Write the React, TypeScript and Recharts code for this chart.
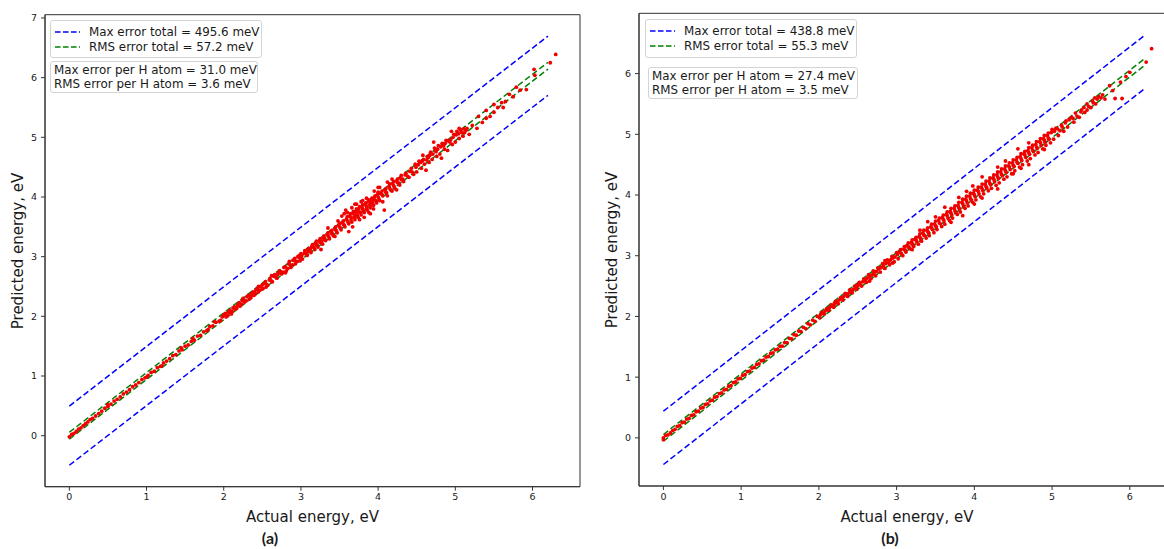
import React from 'react';
import { ScatterChart, Scatter, XAxis, YAxis, ReferenceLine, ReferenceArea, Legend } from 'recharts';

const xTicks = [0, 1, 2, 3, 4, 5, 6];
const yTicksA = [0, 1, 2, 3, 4, 5, 6, 7];
const yTicksB = [0, 1, 2, 3, 4, 5, 6];
const xDomainA: [number, number] = [-0.315, 6.615];
const yDomainA: [number, number] = [-0.855, 7.055];
const xDomainB: [number, number] = [-0.314, 6.594];
const yDomainB: [number, number] = [-0.793, 6.993];
const lineSpan = [0, 6.2];
const maxErrA = 0.4956;
const rmsErrA = 0.0572;
const maxErrB = 0.4388;
const rmsErrB = 0.0553;
const legendA = ['Max error total = 495.6 meV', 'RMS error total = 57.2 meV'];
const statsA = ['Max error per H atom = 31.0 meV', 'RMS error per H atom = 3.6 meV'];
const legendB = ['Max error total = 438.8 meV', 'RMS error total = 55.3 meV'];
const statsB = ['Max error per H atom = 27.4 meV', 'RMS error per H atom = 3.5 meV'];
const xLabel = 'Actual energy, eV';
const yLabel = 'Predicted energy, eV';
const panelTags = ['(a)', '(b)'];

// [actual, predicted] in eV
const pointsA: [number, number][] = [
  [0.0, -0.02], [0.03, 0.02], [0.06, 0.04], [0.09, 0.07], [0.12, 0.11], [0.15, 0.13], [0.18, 0.17], [0.21, 0.2],
  [0.24, 0.23], [0.27, 0.27], [0.3, 0.29], [0.34, 0.33], [0.38, 0.37], [0.42, 0.41], [0.46, 0.46], [0.5, 0.49],
  [0.54, 0.53], [0.58, 0.58], [0.62, 0.61], [0.66, 0.65], [0.7, 0.7], [0.74, 0.73], [0.78, 0.77], [0.82, 0.82],
  [0.86, 0.85], [0.9, 0.89], [0.94, 0.94], [0.98, 0.97], [1.02, 1.01], [1.06, 1.06], [1.1, 1.08], [1.14, 1.14],
  [1.18, 1.16], [1.22, 1.22], [1.26, 1.25], [1.3, 1.29], [1.34, 1.34], [1.38, 1.36], [1.42, 1.42], [1.46, 1.44],
  [1.5, 1.5], [1.54, 1.52], [1.58, 1.58], [1.62, 1.6], [1.66, 1.67], [1.7, 1.68], [1.74, 1.74], [1.78, 1.76],
  [1.82, 1.83], [1.86, 1.84], [1.9, 1.9], [1.94, 1.92], [1.98, 1.99], [1.2, 1.17], [1.45, 1.47], [1.6, 1.63],
  [1.8, 1.78], [1.88, 1.91], [1.96, 1.93], [0.5, 0.52], [1.0, 0.98],
  [2.0, 2.02], [2.03, 1.99], [2.06, 2.07], [2.09, 2.06], [2.12, 2.14], [2.15, 2.12], [2.18, 2.19], [2.21, 2.17],
  [2.24, 2.26], [2.27, 2.24], [2.3, 2.33], [2.33, 2.29], [2.36, 2.38], [2.39, 2.35], [2.42, 2.45], [2.45, 2.41],
  [2.48, 2.5], [2.51, 2.47], [2.54, 2.58], [2.57, 2.52], [2.6, 2.63], [2.63, 2.58], [2.66, 2.7], [2.69, 2.64],
  [2.72, 2.76], [2.75, 2.71], [2.78, 2.82], [2.81, 2.76], [2.84, 2.88], [2.87, 2.82], [2.9, 2.94], [2.93, 2.88],
  [2.96, 3.0], [2.99, 2.93], [2.1, 2.04], [2.25, 2.3], [2.4, 2.41], [2.55, 2.49], [2.62, 2.68], [2.7, 2.7],
  [2.8, 2.73], [2.85, 2.92], [2.92, 2.97], [2.98, 2.98], [2.45, 2.5], [2.35, 2.31], [2.5, 2.53],
  [3.0, 3.05], [3.02, 2.96], [3.05, 3.1], [3.08, 3.02], [3.1, 3.14], [3.13, 3.07], [3.15, 3.2], [3.18, 3.12],
  [3.2, 3.26], [3.22, 3.16], [3.25, 3.3], [3.28, 3.21], [3.3, 3.35], [3.32, 3.27], [3.35, 3.4], [3.37, 3.3],
  [3.4, 3.44], [3.42, 3.35], [3.45, 3.5], [3.47, 3.4], [3.5, 3.56], [3.52, 3.45], [3.55, 3.6], [3.57, 3.5],
  [3.6, 3.67], [3.62, 3.55], [3.64, 3.72], [3.66, 3.58], [3.68, 3.76], [3.7, 3.62], [3.72, 3.8], [3.74, 3.66],
  [3.76, 3.84], [3.78, 3.7], [3.8, 3.87], [3.82, 3.74], [3.84, 3.9], [3.86, 3.78], [3.88, 3.95], [3.9, 3.82],
  [3.92, 3.98], [3.94, 3.86], [3.96, 4.02], [3.98, 3.9], [4.0, 4.08], [4.02, 3.94], [4.05, 4.1], [4.08, 3.78],
  [4.1, 4.14], [4.12, 4.02], [4.15, 4.22], [4.18, 4.1], [4.2, 4.26], [4.22, 4.14], [4.25, 4.3], [4.28, 4.2],
  [4.3, 4.36], [4.33, 4.26], [4.36, 4.4], [4.4, 4.33], [4.43, 4.48], [4.46, 4.38],
  [3.1, 3.09], [3.2, 3.2], [3.3, 3.29], [3.4, 3.39], [3.5, 3.5], [3.6, 3.6], [3.7, 3.7], [3.8, 3.8],
  [3.9, 3.9], [4.0, 4.0], [4.1, 4.08], [4.2, 4.19], [4.3, 4.29], [3.15, 3.16], [3.25, 3.24], [3.35, 3.36],
  [3.45, 3.45], [3.55, 3.54], [3.65, 3.66], [3.75, 3.75], [3.85, 3.85], [3.95, 3.95], [4.05, 4.04], [4.15, 4.15],
  [4.25, 4.24], [3.58, 3.78], [3.7, 3.88], [3.62, 3.42], [3.85, 3.98], [3.9, 3.72], [4.0, 4.16], [3.78, 3.92],
  [3.67, 3.5], [3.53, 3.68], [3.35, 3.48], [3.26, 3.12], [3.95, 4.1], [4.12, 4.25], [3.82, 3.66],
  [4.48, 4.55], [4.5, 4.42], [4.53, 4.6], [4.56, 4.48], [4.58, 4.7], [4.6, 4.55], [4.63, 4.62], [4.66, 4.58],
  [4.68, 4.75], [4.7, 4.63], [4.73, 4.82], [4.76, 4.68], [4.78, 4.86], [4.8, 4.72], [4.83, 4.9], [4.86, 4.8],
  [4.88, 4.95], [4.9, 4.78], [4.93, 4.92], [4.96, 4.88], [4.98, 5.05], [5.0, 4.92], [5.02, 5.1], [5.05, 4.98],
  [5.07, 5.12], [5.1, 5.02], [5.12, 5.08], [5.15, 5.15], [5.18, 5.05], [4.62, 4.45], [4.72, 4.92], [4.82, 4.65],
  [4.95, 5.1], [5.05, 5.15], [4.55, 4.58], [4.65, 4.66], [4.75, 4.76], [4.85, 4.86],
  [5.22, 5.2], [5.28, 5.15], [5.3, 5.35], [5.35, 5.25], [5.4, 5.45], [5.45, 5.35], [5.5, 5.55], [5.55, 5.5],
  [5.6, 5.58], [5.62, 5.5], [5.7, 5.72], [5.75, 5.68], [5.79, 5.84], [5.84, 5.79], [5.92, 5.8], [6.02, 6.14],
  [6.03, 6.04], [6.23, 6.25], [6.3, 6.39], [5.65, 5.6], [5.5, 5.42], [5.4, 5.32],
];

// dense core of panel (a)
const pointsA2: [number, number][] = [
  [2.02, 2.05], [2.05, 2.01], [2.08, 2.1], [2.11, 2.08], [2.14, 2.16], [2.17, 2.14], [2.2, 2.23], [2.23, 2.2],
  [2.26, 2.28], [2.29, 2.26], [2.32, 2.35], [2.35, 2.33], [2.38, 2.41], [2.41, 2.38], [2.44, 2.46], [2.47, 2.44],
  [2.5, 2.46], [2.53, 2.55], [2.56, 2.53], [2.59, 2.61], [2.62, 2.59], [2.65, 2.67], [2.68, 2.65], [2.71, 2.73],
  [2.74, 2.75], [2.77, 2.74], [2.8, 2.83], [2.83, 2.8], [2.86, 2.86], [2.89, 2.86], [2.92, 2.93], [2.95, 2.92],
  [2.98, 3.02], [3.01, 3.01], [3.04, 3.05], [3.07, 3.06], [3.09, 3.11], [3.12, 3.12], [3.14, 3.17], [3.17, 3.16],
  [3.19, 3.22], [3.21, 3.2], [3.24, 3.27], [3.27, 3.25], [3.29, 3.32], [3.31, 3.3], [3.34, 3.37], [3.36, 3.34],
  [3.39, 3.42], [3.41, 3.38], [3.44, 3.47], [3.46, 3.43], [3.49, 3.53], [3.51, 3.48], [3.54, 3.57], [3.56, 3.53],
  [3.59, 3.63], [3.61, 3.58], [3.63, 3.68], [3.65, 3.62], [3.67, 3.72], [3.69, 3.66], [3.71, 3.75], [3.73, 3.7],
  [3.75, 3.8], [3.77, 3.74], [3.79, 3.83], [3.81, 3.77], [3.83, 3.87], [3.85, 3.81], [3.87, 3.92], [3.89, 3.86],
  [3.91, 3.94], [3.93, 3.9], [3.95, 3.99], [3.97, 3.94], [3.99, 4.04], [4.01, 3.97], [4.03, 4.06], [4.06, 4.02],
  [4.09, 4.12], [4.11, 4.07], [4.14, 4.18], [4.16, 4.12], [4.19, 4.22], [4.21, 4.17], [4.24, 4.27], [4.27, 4.23],
  [4.29, 4.32], [4.32, 4.3], [4.35, 4.37], [4.38, 4.35], [4.41, 4.43], [4.44, 4.42], [3.56, 3.72], [3.6, 3.74],
  [3.66, 3.82], [3.72, 3.88], [3.8, 3.94], [3.76, 3.62], [3.88, 3.74], [3.94, 3.8], [4.02, 4.16], [4.06, 3.92],
  [3.48, 3.6], [3.44, 3.34], [4.18, 4.3], [4.24, 4.12], [4.49, 4.5], [4.52, 4.54], [4.57, 4.6], [4.59, 4.63],
  [4.64, 4.68], [4.67, 4.7], [4.71, 4.72], [4.74, 4.78], [4.77, 4.8], [4.81, 4.84], [4.84, 4.86], [4.87, 4.9],
  [4.91, 4.94], [4.94, 4.96], [4.97, 5.0], [5.01, 5.04], [5.04, 5.06], [5.08, 5.08], [5.11, 5.14], [5.14, 5.12],
];

const pointsB: [number, number][] = [
  [0.0, 0.0], [0.0, -0.03], [0.03, 0.04], [0.06, 0.05], [0.09, 0.08], [0.12, 0.12], [0.15, 0.14], [0.18, 0.19],
  [0.21, 0.2], [0.24, 0.25], [0.27, 0.26], [0.3, 0.31], [0.33, 0.32], [0.36, 0.37], [0.39, 0.38], [0.42, 0.43],
  [0.45, 0.44], [0.48, 0.49], [0.51, 0.5], [0.54, 0.55], [0.57, 0.56], [0.6, 0.61], [0.63, 0.62], [0.66, 0.67],
  [0.69, 0.68], [0.72, 0.73], [0.75, 0.74], [0.78, 0.79], [0.81, 0.8], [0.84, 0.85], [0.87, 0.86], [0.9, 0.91],
  [0.93, 0.92], [0.96, 0.97], [0.99, 0.98], [1.02, 1.03], [1.05, 1.04], [1.08, 1.09], [1.11, 1.1], [1.14, 1.15],
  [1.17, 1.16], [1.2, 1.21], [1.23, 1.22], [1.26, 1.27], [1.29, 1.28], [1.32, 1.33], [1.35, 1.34], [1.38, 1.39],
  [1.41, 1.4], [1.44, 1.45], [1.47, 1.46], [1.5, 1.51], [1.53, 1.51], [1.56, 1.57], [1.59, 1.57], [1.62, 1.64],
  [1.65, 1.63], [1.68, 1.7], [1.71, 1.69], [1.74, 1.76], [1.77, 1.75], [1.8, 1.82], [1.83, 1.8], [1.86, 1.88],
  [1.89, 1.86], [1.92, 1.94], [1.95, 1.92], [1.98, 2.0],
  [2.01, 1.98], [2.04, 2.07], [2.07, 2.04], [2.1, 2.13], [2.13, 2.1], [2.16, 2.19], [2.19, 2.15], [2.22, 2.25],
  [2.25, 2.21], [2.28, 2.31], [2.31, 2.27], [2.34, 2.38], [2.37, 2.33], [2.4, 2.44], [2.43, 2.39], [2.46, 2.5],
  [2.49, 2.45], [2.52, 2.56], [2.55, 2.5], [2.58, 2.62], [2.61, 2.56], [2.64, 2.69], [2.67, 2.62], [2.7, 2.75],
  [2.73, 2.67], [2.76, 2.8], [2.79, 2.73], [2.82, 2.87], [2.85, 2.79], [2.88, 2.93], [2.91, 2.85], [2.94, 2.99],
  [2.97, 2.9], [2.2, 2.2], [2.3, 2.3], [2.4, 2.4], [2.5, 2.5], [2.6, 2.6], [2.7, 2.7], [2.8, 2.8],
  [2.9, 2.9], [2.65, 2.58], [2.85, 2.92], [2.95, 2.88],
  [3.0, 3.05], [3.02, 2.95], [3.05, 3.1], [3.08, 3.0], [3.1, 3.15], [3.12, 3.06], [3.15, 3.21], [3.18, 3.11],
  [3.2, 3.26], [3.22, 3.15], [3.25, 3.3], [3.28, 3.19], [3.3, 3.36], [3.32, 3.24], [3.35, 3.42], [3.38, 3.29],
  [3.4, 3.46], [3.42, 3.33], [3.45, 3.52], [3.48, 3.38], [3.5, 3.57], [3.52, 3.43], [3.55, 3.62], [3.58, 3.48],
  [3.6, 3.67], [3.62, 3.52], [3.65, 3.72], [3.68, 3.58], [3.7, 3.78], [3.72, 3.62], [3.75, 3.82], [3.78, 3.68],
  [3.8, 3.88], [3.82, 3.72], [3.85, 3.93], [3.88, 3.78], [3.9, 3.98], [3.92, 3.82], [3.95, 4.03], [3.98, 3.88],
  [4.0, 4.08], [4.02, 3.92], [4.05, 4.13], [4.08, 3.97], [4.1, 4.18], [4.12, 4.02], [4.15, 4.23], [4.18, 4.07],
  [4.2, 4.28], [4.22, 4.11], [4.25, 4.33], [4.28, 4.16], [4.3, 4.38], [4.32, 4.2], [4.35, 4.43], [4.38, 4.26],
  [4.4, 4.48], [4.42, 4.3], [4.45, 4.53], [4.48, 4.35], [4.5, 4.58], [4.52, 4.4], [4.55, 4.62], [4.58, 4.46],
  [4.6, 4.68], [4.62, 4.5], [4.65, 4.72], [4.68, 4.56], [4.7, 4.78], [4.72, 4.6], [4.75, 4.82], [4.78, 4.66],
  [4.8, 4.88], [4.82, 4.7], [4.85, 4.93], [4.88, 4.76], [4.9, 4.98], [4.92, 4.82], [4.95, 5.02], [4.98, 4.86],
  [3.1, 3.1], [3.2, 3.19], [3.3, 3.3], [3.4, 3.4], [3.5, 3.49], [3.6, 3.6], [3.7, 3.7], [3.8, 3.79],
  [3.9, 3.9], [4.0, 4.0], [4.1, 4.1], [4.2, 4.19], [4.3, 4.3], [4.4, 4.4], [4.5, 4.49], [4.6, 4.6],
  [4.7, 4.7], [4.8, 4.79], [4.9, 4.9], [3.15, 3.14], [3.25, 3.26], [3.35, 3.34], [3.45, 3.46], [3.55, 3.54],
  [3.65, 3.66], [3.75, 3.74], [3.85, 3.86], [3.95, 3.94], [4.05, 4.06], [4.15, 4.14], [4.25, 4.26], [4.35, 4.34],
  [4.45, 4.46], [4.55, 4.54], [4.65, 4.66], [4.75, 4.74], [4.85, 4.86], [4.95, 4.94], [3.62, 3.8], [3.98, 4.15],
  [4.3, 4.1], [4.56, 4.76], [4.7, 4.5], [3.85, 3.66], [4.1, 4.3], [3.4, 3.56],
  [5.0, 5.08], [5.02, 4.92], [5.05, 5.1], [5.08, 4.98], [5.1, 5.06], [5.12, 5.15], [5.15, 5.05], [5.18, 5.22],
  [5.2, 5.12], [5.25, 5.28], [5.28, 5.2], [5.3, 5.35], [5.35, 5.28], [5.38, 5.4], [5.42, 5.36], [5.45, 5.5],
  [5.5, 5.44], [5.52, 5.55], [5.56, 5.5], [5.6, 5.62], [5.65, 5.65], [5.68, 5.58], [5.74, 5.8], [5.81, 5.59],
  [5.88, 5.86], [5.9, 5.59], [6.0, 6.02], [6.21, 6.19], [6.28, 6.41], [5.95, 5.95], [5.78, 5.72], [5.55, 5.6],
  [5.45, 5.4],
];

// dense core of panel (b)
const pointsB2: [number, number][] = [
  [2.02, 2.03], [2.05, 2.05], [2.08, 2.09], [2.11, 2.11], [2.14, 2.15], [2.17, 2.17], [2.2, 2.22], [2.23, 2.23],
  [2.26, 2.27], [2.29, 2.29], [2.32, 2.33], [2.35, 2.36], [2.38, 2.38], [2.41, 2.42], [2.44, 2.44], [2.47, 2.47],
  [2.5, 2.52], [2.53, 2.53], [2.56, 2.57], [2.59, 2.59], [2.62, 2.63], [2.65, 2.66], [2.68, 2.68], [2.71, 2.72],
  [2.74, 2.74], [2.77, 2.78], [2.8, 2.81], [2.83, 2.83], [2.86, 2.87], [2.89, 2.89], [2.92, 2.93], [2.95, 2.96],
  [2.98, 2.98], [3.01, 3.02], [3.04, 3.06], [3.06, 3.04], [3.09, 3.11], [3.11, 3.09], [3.14, 3.17], [3.16, 3.14],
  [3.19, 3.22], [3.21, 3.19], [3.24, 3.27], [3.26, 3.23], [3.29, 3.32], [3.31, 3.28], [3.34, 3.37], [3.36, 3.33],
  [3.39, 3.42], [3.41, 3.38], [3.44, 3.47], [3.46, 3.43], [3.49, 3.52], [3.51, 3.48], [3.54, 3.58], [3.56, 3.53],
  [3.59, 3.63], [3.61, 3.57], [3.64, 3.68], [3.66, 3.62], [3.69, 3.73], [3.71, 3.67], [3.74, 3.78], [3.76, 3.72],
  [3.79, 3.83], [3.81, 3.77], [3.84, 3.88], [3.86, 3.82], [3.89, 3.93], [3.91, 3.87], [3.94, 3.98], [3.96, 3.92],
  [3.99, 4.03], [4.01, 3.97], [4.04, 4.08], [4.06, 4.02], [4.09, 4.13], [4.11, 4.07], [4.14, 4.18], [4.16, 4.12],
  [4.19, 4.23], [4.21, 4.17], [4.24, 4.28], [4.26, 4.22], [4.29, 4.33], [4.31, 4.27], [4.34, 4.38], [4.36, 4.32],
  [4.39, 4.43], [4.41, 4.37], [4.44, 4.48], [4.46, 4.42], [4.49, 4.53], [4.51, 4.47], [4.54, 4.58], [4.56, 4.52],
  [4.59, 4.63], [4.61, 4.57], [4.64, 4.68], [4.66, 4.62], [4.69, 4.73], [4.71, 4.67], [4.74, 4.78], [4.76, 4.72],
  [4.79, 4.83], [4.81, 4.77], [4.84, 4.88], [4.86, 4.82], [4.89, 4.93], [4.91, 4.87], [4.94, 4.98], [4.96, 4.92],
  [4.99, 5.03], [3.5, 3.64], [3.7, 3.55], [3.9, 4.06], [4.1, 3.95], [4.3, 4.46], [4.5, 4.35], [4.7, 4.86],
  [4.9, 4.75], [3.3, 3.42], [3.2, 3.1], [3.8, 3.96], [4.0, 3.85], [4.4, 4.56], [4.6, 4.44], [5.03, 5.05],
  [5.07, 5.09], [5.13, 5.12], [5.17, 5.19], [5.22, 5.24], [5.27, 5.26], [5.32, 5.3], [5.37, 5.37], [5.41, 5.44],
  [5.47, 5.46], [5.53, 5.52], [5.58, 5.58], [5.63, 5.6],
];

const FONT = '"DejaVu Sans", sans-serif';
const TEXT = '#1a1a1a';

function toXY(pts: [number, number][]) {
  return pts.map(([x, y]) => ({ x, y }));
}

const Dot = (p: any) => <circle cx={p.cx} cy={p.cy} r={1.9} fill="#f20000" />;

function LegendBoxes({ box1, box2, entries, stats }: any) {
  const colors = ['#0000ff', '#008000'];
  return (
    <div style={{ position: 'relative', width: 0, height: 0, fontFamily: FONT, fontSize: 11.9, color: TEXT }}>
      <div style={{ position: 'absolute', left: box1.left, top: box1.top, width: box1.width, height: box1.height, border: '1px solid #d4d4d4', borderRadius: 3, background: '#fff', boxSizing: 'border-box' }}>
        {entries.map((t: string, i: number) => (
          <div key={i} style={{ position: 'absolute', left: 0, top: 3 + i * 15.5, height: 15, display: 'flex', alignItems: 'center', whiteSpace: 'nowrap' }}>
            <svg width={38} height={14} style={{ display: 'block' }}>
              <line x1={4} y1={7} x2={29} y2={7} stroke={colors[i]} strokeWidth={1.6} strokeDasharray="5.5 2.5" />
            </svg>
            <span>{t}</span>
          </div>
        ))}
      </div>
      <div style={{ position: 'absolute', left: box2.left, top: box2.top, width: box2.width, height: box2.height, border: '1px solid #d4d4d4', borderRadius: 3, background: '#fff', boxSizing: 'border-box', padding: '1px 0 0 3px', lineHeight: '14px', whiteSpace: 'nowrap' }}>
        {stats.map((t: string, i: number) => (
          <div key={i}>{t}</div>
        ))}
      </div>
    </div>
  );
}

function Panel({ pts, xDomain, yDomain, yTicks, maxErr, rmsErr, margin, legend }: any) {
  const seg = (off: number) => [
    { x: lineSpan[0], y: lineSpan[0] + off },
    { x: lineSpan[1], y: lineSpan[1] + off },
  ];
  const tickStyle = { fontFamily: FONT, fontSize: 9.5, fill: TEXT };
  return (
    <ScatterChart width={600} height={549} margin={margin}>
      <XAxis type="number" dataKey="x" domain={xDomain} ticks={xTicks} allowDataOverflow height={30}
        tick={tickStyle} tickSize={4} tickMargin={3} axisLine={{ stroke: '#333' }} tickLine={{ stroke: '#333' }} />
      <YAxis type="number" dataKey="y" domain={yDomain} ticks={yTicks} allowDataOverflow width={35}
        tick={tickStyle} tickSize={4} tickMargin={4} axisLine={{ stroke: '#333' }} tickLine={{ stroke: '#333' }} />
      <ReferenceArea x1={xDomain[0]} x2={xDomain[1]} y1={yDomain[0]} y2={yDomain[1]} fill="none" fillOpacity={0} stroke="#333" strokeWidth={1} />
      <ReferenceLine segment={seg(maxErr)} stroke="#0000ff" strokeWidth={1.5} strokeDasharray="6 3" />
      <ReferenceLine segment={seg(-maxErr)} stroke="#0000ff" strokeWidth={1.5} strokeDasharray="6 3" />
      <ReferenceLine segment={seg(rmsErr)} stroke="#008000" strokeWidth={1.5} strokeDasharray="6 3" />
      <ReferenceLine segment={seg(-rmsErr)} stroke="#008000" strokeWidth={1.5} strokeDasharray="6 3" />
      <Scatter data={toXY(pts)} shape={Dot} isAnimationActive={false} />
      <Legend verticalAlign="middle" align="left" layout="horizontal"
        wrapperStyle={{ left: 0, top: 0, width: 0, height: 0 }}
        content={() => <LegendBoxes {...legend} />} />
    </ScatterChart>
  );
}

const labelStyle: React.CSSProperties = { position: 'absolute', fontFamily: FONT, fontSize: 15, color: TEXT, whiteSpace: 'nowrap', lineHeight: '18px' };
const tagStyle: React.CSSProperties = { position: 'absolute', fontFamily: 'Lato, "Open Sans", sans-serif', fontWeight: 700, fontSize: 16, color: TEXT, lineHeight: '18px' };

export default function App() {
  return (
    <div style={{ position: 'absolute', left: 0, top: 0, width: 1164, height: 549, overflow: 'hidden', background: '#fff' }}>
      <div style={{ position: 'absolute', left: 0, top: 0 }}>
        <Panel pts={[...pointsA, ...pointsA2]} xDomain={xDomainA} yDomain={yDomainA} yTicks={yTicksA} maxErr={maxErrA} rmsErr={rmsErrA}
          margin={{ top: 14.7, left: 10, right: 20, bottom: 32.3 }}
          legend={{ box1: { left: 50, top: 20, width: 212, height: 38 }, box2: { left: 50, top: 61, width: 208, height: 32 }, entries: legendA, stats: statsA }} />
      </div>
      <div style={{ position: 'absolute', left: 600, top: 0 }}>
        <Panel pts={[...pointsB, ...pointsB2]} xDomain={xDomainB} yDomain={yDomainB} yTicks={yTicksB} maxErr={maxErrB} rmsErr={rmsErrB}
          margin={{ top: 13.3, left: 4, right: 24, bottom: 33 }}
          legend={{ box1: { left: 45, top: 19, width: 212, height: 39 }, box2: { left: 48, top: 67, width: 210, height: 32 }, entries: legendB, stats: statsB }} />
      </div>
      <div style={{ ...labelStyle, left: 312.5, top: 508, transform: 'translateX(-50%)' }}>{xLabel}</div>
      <div style={{ ...labelStyle, left: 907, top: 508, transform: 'translateX(-50%)' }}>{xLabel}</div>
      <div style={{ ...labelStyle, left: 18, top: 250.7, transform: 'translate(-50%, -50%) rotate(-90deg)' }}>{yLabel}</div>
      <div style={{ ...labelStyle, left: 612, top: 249.7, transform: 'translate(-50%, -50%) rotate(-90deg)' }}>{yLabel}</div>
      <div style={{ ...tagStyle, left: 270, top: 529, transform: 'translateX(-50%)' }}>{panelTags[0]}</div>
      <div style={{ ...tagStyle, left: 890, top: 529, transform: 'translateX(-50%)' }}>{panelTags[1]}</div>
    </div>
  );
}
